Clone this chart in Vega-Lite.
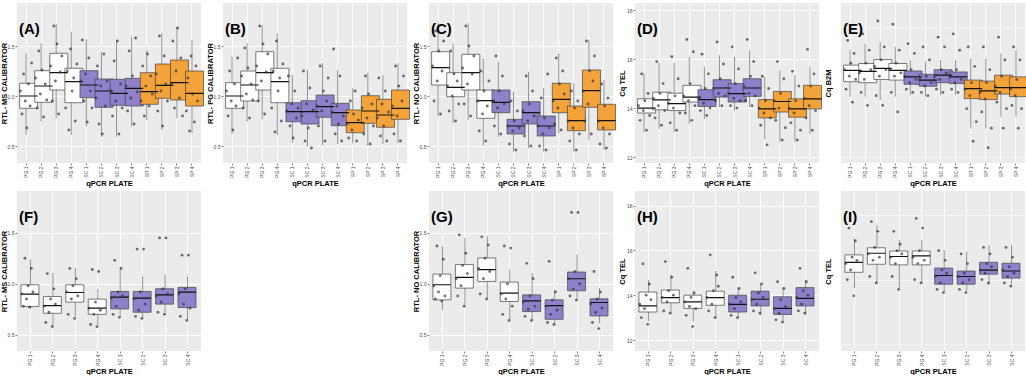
{
"$schema":"https://vega.github.io/schema/vega-lite/v6.json",
"padding":{"left":0,"top":3,"right":0,"bottom":0},
"columns":5,
"spacing":{"row":28,"column":22},
"bounds":"flush",
"config":{
 "font":"Liberation Sans",
 "view":{"stroke":null},
 "axis":{"domain":false,"tickColor":"#333333","tickSize":2,"tickWidth":0.6,"labelFontSize":5,"labelColor":"#4d4d4d","labelPadding":1,"titleFontSize":7.5,"titleFontWeight":"bold","titleColor":"#000000","gridColor":"#ffffff"},
 "axisY":{"minExtent":8,"maxExtent":8,"titlePadding":1},
 "axisX":{"labelAngle":-90,"bandPosition":0.5,"grid":true,"gridWidth":1,"titlePadding":2},
 "title":{"anchor":"start","frame":"group","fontSize":15,"fontWeight":"bold","offset":-29,"dx":2,"dy":5,"color":"#000000"}
},
"data":{"values":[
{"p":"A","x":"PG 1","g":"PG","lo":0.61,"q1":0.877,"md":1.0,"q3":1.127,"hi":1.427},
{"p":"A","x":"PG 2","g":"PG","lo":0.743,"q1":0.937,"md":1.10,"q3":1.253,"hi":1.527},
{"p":"A","x":"PG 3","g":"PG","lo":0.777,"q1":1.06,"md":1.233,"q3":1.427,"hi":1.72},
{"p":"A","x":"PG 4","g":"PG","lo":0.61,"q1":0.933,"md":1.143,"q3":1.277,"hi":1.643},
{"p":"A","x":"SC 1","g":"SC","lo":0.70,"q1":0.983,"md":1.11,"q3":1.253,"hi":1.567},
{"p":"A","x":"SC 2","g":"SC","lo":0.593,"q1":0.887,"md":1.05,"q3":1.17,"hi":1.443},
{"p":"A","x":"SC 3","g":"SC","lo":0.593,"q1":0.907,"md":1.027,"q3":1.167,"hi":1.56},
{"p":"A","x":"SC 4","g":"SC","lo":0.693,"q1":0.90,"md":1.077,"q3":1.177,"hi":1.593},
{"p":"A","x":"SP 1","g":"SP","lo":0.76,"q1":0.917,"md":1.043,"q3":1.233,"hi":1.46},
{"p":"A","x":"SP 2","g":"SP","lo":0.66,"q1":0.977,"md":1.107,"q3":1.32,"hi":1.627},
{"p":"A","x":"SP 3","g":"SP","lo":0.777,"q1":0.96,"md":1.133,"q3":1.36,"hi":1.693},
{"p":"A","x":"SP 4","g":"SP","lo":0.627,"q1":0.90,"md":1.027,"q3":1.25,"hi":1.56},
{"p":"B","x":"PG 1","g":"PG","lo":0.62,"q1":0.877,"md":1.0,"q3":1.133,"hi":1.393},
{"p":"B","x":"PG 2","g":"PG","lo":0.743,"q1":0.95,"md":1.11,"q3":1.25,"hi":1.527},
{"p":"B","x":"PG 3","g":"PG","lo":0.767,"q1":1.06,"md":1.233,"q3":1.443,"hi":1.71},
{"p":"B","x":"PG 4","g":"PG","lo":0.61,"q1":0.933,"md":1.143,"q3":1.277,"hi":1.627},
{"p":"B","x":"SC 1","g":"SC","lo":0.533,"q1":0.743,"md":0.843,"q3":0.933,"hi":1.21},
{"p":"B","x":"SC 2","g":"SC","lo":0.493,"q1":0.72,"md":0.843,"q3":0.953,"hi":1.26},
{"p":"B","x":"SC 3","g":"SC","lo":0.51,"q1":0.787,"md":0.893,"q3":1.01,"hi":1.327},
{"p":"B","x":"SC 4","g":"SC","lo":0.52,"q1":0.703,"md":0.833,"q3":0.927,"hi":1.26},
{"p":"B","x":"SP 1","g":"SP","lo":0.527,"q1":0.633,"md":0.733,"q3":0.86,"hi":1.077},
{"p":"B","x":"SP 2","g":"SP","lo":0.50,"q1":0.727,"md":0.85,"q3":1.003,"hi":1.233},
{"p":"B","x":"SP 3","g":"SP","lo":0.52,"q1":0.687,"md":0.81,"q3":0.967,"hi":1.21},
{"p":"B","x":"SP 4","g":"SP","lo":0.527,"q1":0.767,"md":0.877,"q3":1.06,"hi":1.327},
{"p":"C","x":"PG 1","g":"PG","lo":0.793,"q1":1.11,"md":1.283,"q3":1.443,"hi":1.727},
{"p":"C","x":"PG 2","g":"PG","lo":0.727,"q1":0.993,"md":1.087,"q3":1.233,"hi":1.527},
{"p":"C","x":"PG 3","g":"PG","lo":0.76,"q1":1.06,"md":1.233,"q3":1.417,"hi":1.727},
{"p":"C","x":"PG 4","g":"PG","lo":0.503,"q1":0.777,"md":0.953,"q3":1.06,"hi":1.377},
{"p":"C","x":"SC 1","g":"SC","lo":0.593,"q1":0.833,"md":0.937,"q3":1.06,"hi":1.343},
{"p":"C","x":"SC 2","g":"SC","lo":0.443,"q1":0.62,"md":0.70,"q3":0.767,"hi":1.043},
{"p":"C","x":"SC 3","g":"SC","lo":0.477,"q1":0.72,"md":0.833,"q3":0.943,"hi":1.243},
{"p":"C","x":"SC 4","g":"SC","lo":0.443,"q1":0.60,"md":0.70,"q3":0.80,"hi":1.077},
{"p":"C","x":"SP 1","g":"SP","lo":0.627,"q1":0.833,"md":0.967,"q3":1.127,"hi":1.427},
{"p":"C","x":"SP 2","g":"SP","lo":0.443,"q1":0.653,"md":0.753,"q3":0.90,"hi":1.127},
{"p":"C","x":"SP 3","g":"SP","lo":0.56,"q1":0.887,"md":1.053,"q3":1.26,"hi":1.56},
{"p":"C","x":"SP 4","g":"SP","lo":0.46,"q1":0.66,"md":0.753,"q3":0.917,"hi":1.16},
{"p":"D","x":"PG 1","g":"PG","lo":13.02,"q1":13.80,"md":14.0,"q3":14.38,"hi":15.43},
{"p":"D","x":"PG 2","g":"PG","lo":13.15,"q1":13.93,"md":14.34,"q3":14.65,"hi":15.84},
{"p":"D","x":"PG 3","g":"PG","lo":13.02,"q1":13.90,"md":14.18,"q3":14.61,"hi":15.84},
{"p":"D","x":"PG 4","g":"PG","lo":13.36,"q1":14.25,"md":14.45,"q3":14.93,"hi":16.09},
{"p":"D","x":"SC 1","g":"SC","lo":13.56,"q1":14.07,"md":14.35,"q3":14.75,"hi":15.68},
{"p":"D","x":"SC 2","g":"SC","lo":14.04,"q1":14.45,"md":14.82,"q3":15.16,"hi":16.16},
{"p":"D","x":"SC 3","g":"SC","lo":13.9,"q1":14.25,"md":14.59,"q3":15.0,"hi":16.09},
{"p":"D","x":"SC 4","g":"SC","lo":14.04,"q1":14.48,"md":14.82,"q3":15.2,"hi":16.36},
{"p":"D","x":"SP 1","g":"SP","lo":12.74,"q1":13.6,"md":13.97,"q3":14.35,"hi":15.27},
{"p":"D","x":"SP 2","g":"SP","lo":12.61,"q1":13.84,"md":14.27,"q3":14.68,"hi":15.54},
{"p":"D","x":"SP 3","g":"SP","lo":12.61,"q1":13.63,"md":13.97,"q3":14.38,"hi":15.34},
{"p":"D","x":"SP 4","g":"SP","lo":12.95,"q1":13.97,"md":14.38,"q3":14.93,"hi":15.68},
{"p":"E","x":"PG 1","g":"PG","lo":25.37,"q1":25.83,"md":26.18,"q3":26.34,"hi":26.8},
{"p":"E","x":"PG 2","g":"PG","lo":25.37,"q1":25.8,"md":26.15,"q3":26.39,"hi":27.0},
{"p":"E","x":"PG 3","g":"PG","lo":25.26,"q1":25.9,"md":26.24,"q3":26.51,"hi":27.05},
{"p":"E","x":"PG 4","g":"PG","lo":25.37,"q1":25.88,"md":26.18,"q3":26.39,"hi":26.9},
{"p":"E","x":"SC 1","g":"SC","lo":25.42,"q1":25.75,"md":25.98,"q3":26.16,"hi":26.49},
{"p":"E","x":"SC 2","g":"SC","lo":25.37,"q1":25.69,"md":25.88,"q3":26.06,"hi":26.44},
{"p":"E","x":"SC 3","g":"SC","lo":25.42,"q1":25.8,"md":26.03,"q3":26.2,"hi":26.49},
{"p":"E","x":"SC 4","g":"SC","lo":25.42,"q1":25.77,"md":25.98,"q3":26.13,"hi":26.49},
{"p":"E","x":"SP 1","g":"SP","lo":24.39,"q1":25.31,"md":25.62,"q3":25.88,"hi":26.54},
{"p":"E","x":"SP 2","g":"SP","lo":24.39,"q1":25.28,"md":25.55,"q3":25.85,"hi":26.54},
{"p":"E","x":"SP 3","g":"SP","lo":24.75,"q1":25.45,"md":25.65,"q3":26.03,"hi":26.7},
{"p":"E","x":"SP 4","g":"SP","lo":24.75,"q1":25.37,"md":25.65,"q3":25.98,"hi":26.8},
{"p":"F","x":"PG 1","g":"PG","lo":0.76,"q1":0.776,"md":0.898,"q3":0.99,"hi":1.237},
{"p":"F","x":"PG 2","g":"PG","lo":0.579,"q1":0.71,"md":0.786,"q3":0.875,"hi":1.105},
{"p":"F","x":"PG 3","g":"PG","lo":0.678,"q1":0.819,"md":0.914,"q3":0.99,"hi":1.155},
{"p":"F","x":"PG 4","g":"PG","lo":0.595,"q1":0.70,"md":0.76,"q3":0.849,"hi":0.947},
{"p":"F","x":"SC 1","g":"SC","lo":0.678,"q1":0.753,"md":0.868,"q3":0.924,"hi":1.155},
{"p":"F","x":"SC 2","g":"SC","lo":0.668,"q1":0.72,"md":0.859,"q3":0.924,"hi":1.072},
{"p":"F","x":"SC 3","g":"SC","lo":0.694,"q1":0.80,"md":0.891,"q3":0.951,"hi":1.089},
{"p":"F","x":"SC 4","g":"SC","lo":0.645,"q1":0.766,"md":0.918,"q3":0.964,"hi":1.072},
{"p":"G","x":"PG 1","g":"PG","lo":0.743,"q1":0.842,"md":0.99,"q3":1.095,"hi":1.368},
{"p":"G","x":"PG 2","g":"PG","lo":0.793,"q1":0.957,"md":1.063,"q3":1.188,"hi":1.45},
{"p":"G","x":"PG 3","g":"PG","lo":0.859,"q1":1.023,"md":1.138,"q3":1.253,"hi":1.467},
{"p":"G","x":"PG 4","g":"PG","lo":0.645,"q1":0.826,"md":0.908,"q3":1.016,"hi":1.138},
{"p":"G","x":"SC 1","g":"SC","lo":0.645,"q1":0.727,"md":0.832,"q3":0.891,"hi":1.105},
{"p":"G","x":"SC 2","g":"SC","lo":0.602,"q1":0.651,"md":0.786,"q3":0.842,"hi":0.941},
{"p":"G","x":"SC 3","g":"SC","lo":0.842,"q1":0.931,"md":1.049,"q3":1.115,"hi":1.286},
{"p":"G","x":"SC 4","g":"SC","lo":0.612,"q1":0.684,"md":0.816,"q3":0.852,"hi":0.957},
{"p":"H","x":"PG 1","g":"PG","lo":12.84,"q1":13.25,"md":13.52,"q3":14.14,"hi":14.68},
{"p":"H","x":"PG 2","g":"PG","lo":13.18,"q1":13.66,"md":13.89,"q3":14.23,"hi":14.92},
{"p":"H","x":"PG 3","g":"PG","lo":12.84,"q1":13.41,"md":13.7,"q3":14.0,"hi":14.2},
{"p":"H","x":"PG 4","g":"PG","lo":12.98,"q1":13.55,"md":13.89,"q3":14.18,"hi":15.09},
{"p":"H","x":"SC 1","g":"SC","lo":12.98,"q1":13.25,"md":13.59,"q3":14.0,"hi":14.34},
{"p":"H","x":"SC 2","g":"SC","lo":13.11,"q1":13.52,"md":13.82,"q3":14.18,"hi":14.48},
{"p":"H","x":"SC 3","g":"SC","lo":12.77,"q1":13.14,"md":13.41,"q3":13.93,"hi":14.34},
{"p":"H","x":"SC 4","g":"SC","lo":13.11,"q1":13.52,"md":13.86,"q3":14.34,"hi":14.68},
{"p":"I","x":"PG 1","g":"PG","lo":25.24,"q1":25.73,"md":26.04,"q3":26.27,"hi":26.78},
{"p":"I","x":"PG 2","g":"PG","lo":25.36,"q1":25.98,"md":26.32,"q3":26.49,"hi":27.2},
{"p":"I","x":"PG 3","g":"PG","lo":25.24,"q1":25.96,"md":26.22,"q3":26.39,"hi":26.73},
{"p":"I","x":"PG 4","g":"PG","lo":25.39,"q1":25.96,"md":26.24,"q3":26.39,"hi":26.73},
{"p":"I","x":"SC 1","g":"SC","lo":25.13,"q1":25.36,"md":25.63,"q3":25.86,"hi":26.42},
{"p":"I","x":"SC 2","g":"SC","lo":25.15,"q1":25.36,"md":25.6,"q3":25.77,"hi":26.37},
{"p":"I","x":"SC 3","g":"SC","lo":25.34,"q1":25.67,"md":25.8,"q3":26.04,"hi":26.58},
{"p":"I","x":"SC 4","g":"SC","lo":25.34,"q1":25.55,"md":25.77,"q3":26.01,"hi":26.58},
{"p":"A","x":"PG 1","y":1.05},{"p":"A","x":"PG 1","y":0.82},{"p":"A","x":"PG 1","y":1.22},{"p":"A","x":"PG 1","y":0.95},{"p":"A","x":"PG 1","y":0.68},{"p":"A","x":"PG 1","y":1.12},{"p":"A","x":"PG 1","y":0.90},{"p":"A","x":"PG 1","y":1.33},
{"p":"A","x":"PG 2","y":1.18},{"p":"A","x":"PG 2","y":0.88},{"p":"A","x":"PG 2","y":1.45},{"p":"A","x":"PG 2","y":1.02},{"p":"A","x":"PG 2","y":1.26},{"p":"A","x":"PG 2","y":0.79},{"p":"A","x":"PG 2","y":1.12},{"p":"A","x":"PG 2","y":0.96},
{"p":"A","x":"PG 3","y":1.30},{"p":"A","x":"PG 3","y":0.95},{"p":"A","x":"PG 3","y":1.70},{"p":"A","x":"PG 3","y":1.15},{"p":"A","x":"PG 3","y":1.52},{"p":"A","x":"PG 3","y":0.82},{"p":"A","x":"PG 3","y":1.24},{"p":"A","x":"PG 3","y":1.40},
{"p":"A","x":"PG 4","y":0.88},{"p":"A","x":"PG 4","y":1.25},{"p":"A","x":"PG 4","y":0.66},{"p":"A","x":"PG 4","y":1.47},{"p":"A","x":"PG 4","y":1.05},{"p":"A","x":"PG 4","y":1.18},{"p":"A","x":"PG 4","y":0.75},{"p":"A","x":"PG 4","y":1.32},
{"p":"A","x":"SC 1","y":1.15},{"p":"A","x":"SC 1","y":1.56},{"p":"A","x":"SC 1","y":0.95},{"p":"A","x":"SC 1","y":1.22},{"p":"A","x":"SC 1","y":0.74},{"p":"A","x":"SC 1","y":1.38},{"p":"A","x":"SC 1","y":1.05},{"p":"A","x":"SC 1","y":0.88},
{"p":"A","x":"SC 2","y":0.98},{"p":"A","x":"SC 2","y":1.30},{"p":"A","x":"SC 2","y":0.72},{"p":"A","x":"SC 2","y":1.10},{"p":"A","x":"SC 2","y":0.62},{"p":"A","x":"SC 2","y":1.42},{"p":"A","x":"SC 2","y":0.90},{"p":"A","x":"SC 2","y":1.15},
{"p":"A","x":"SC 3","y":1.05},{"p":"A","x":"SC 3","y":0.80},{"p":"A","x":"SC 3","y":1.35},{"p":"A","x":"SC 3","y":0.95},{"p":"A","x":"SC 3","y":1.55},{"p":"A","x":"SC 3","y":0.62},{"p":"A","x":"SC 3","y":1.12},{"p":"A","x":"SC 3","y":0.88},
{"p":"A","x":"SC 4","y":1.10},{"p":"A","x":"SC 4","y":0.85},{"p":"A","x":"SC 4","y":1.45},{"p":"A","x":"SC 4","y":0.98},{"p":"A","x":"SC 4","y":1.20},{"p":"A","x":"SC 4","y":0.72},{"p":"A","x":"SC 4","y":1.58},{"p":"A","x":"SC 4","y":1.04},
{"p":"A","x":"SP 1","y":0.95},{"p":"A","x":"SP 1","y":1.30},{"p":"A","x":"SP 1","y":0.80},{"p":"A","x":"SP 1","y":1.10},{"p":"A","x":"SP 1","y":1.42},{"p":"A","x":"SP 1","y":0.90},{"p":"A","x":"SP 1","y":1.20},{"p":"A","x":"SP 1","y":1.02},
{"p":"A","x":"SP 2","y":1.22},{"p":"A","x":"SP 2","y":0.85},{"p":"A","x":"SP 2","y":1.60},{"p":"A","x":"SP 2","y":1.05},{"p":"A","x":"SP 2","y":0.70},{"p":"A","x":"SP 2","y":1.40},{"p":"A","x":"SP 2","y":1.12},{"p":"A","x":"SP 2","y":0.95},
{"p":"A","x":"SP 3","y":1.12},{"p":"A","x":"SP 3","y":1.55},{"p":"A","x":"SP 3","y":0.88},{"p":"A","x":"SP 3","y":1.25},{"p":"A","x":"SP 3","y":1.68},{"p":"A","x":"SP 3","y":0.98},{"p":"A","x":"SP 3","y":1.38},{"p":"A","x":"SP 3","y":0.80},
{"p":"A","x":"SP 4","y":0.85},{"p":"A","x":"SP 4","y":1.18},{"p":"A","x":"SP 4","y":0.65},{"p":"A","x":"SP 4","y":1.40},{"p":"A","x":"SP 4","y":1.02},{"p":"A","x":"SP 4","y":0.74},{"p":"A","x":"SP 4","y":1.30},{"p":"A","x":"SP 4","y":0.95},
{"p":"B","x":"PG 1","y":1.05},{"p":"B","x":"PG 1","y":0.80},{"p":"B","x":"PG 1","y":1.25},{"p":"B","x":"PG 1","y":0.95},{"p":"B","x":"PG 1","y":0.66},{"p":"B","x":"PG 1","y":1.12},{"p":"B","x":"PG 1","y":0.90},{"p":"B","x":"PG 1","y":1.38},
{"p":"B","x":"PG 2","y":1.20},{"p":"B","x":"PG 2","y":0.88},{"p":"B","x":"PG 2","y":1.48},{"p":"B","x":"PG 2","y":1.02},{"p":"B","x":"PG 2","y":1.28},{"p":"B","x":"PG 2","y":0.78},{"p":"B","x":"PG 2","y":1.12},{"p":"B","x":"PG 2","y":0.96},
{"p":"B","x":"PG 3","y":1.30},{"p":"B","x":"PG 3","y":0.95},{"p":"B","x":"PG 3","y":1.70},{"p":"B","x":"PG 3","y":1.15},{"p":"B","x":"PG 3","y":1.52},{"p":"B","x":"PG 3","y":0.82},{"p":"B","x":"PG 3","y":1.24},{"p":"B","x":"PG 3","y":1.42},
{"p":"B","x":"PG 4","y":0.88},{"p":"B","x":"PG 4","y":1.25},{"p":"B","x":"PG 4","y":0.64},{"p":"B","x":"PG 4","y":1.55},{"p":"B","x":"PG 4","y":1.05},{"p":"B","x":"PG 4","y":1.18},{"p":"B","x":"PG 4","y":0.75},{"p":"B","x":"PG 4","y":1.32},
{"p":"B","x":"SC 1","y":0.85},{"p":"B","x":"SC 1","y":1.20},{"p":"B","x":"SC 1","y":0.70},{"p":"B","x":"SC 1","y":0.92},{"p":"B","x":"SC 1","y":0.58},{"p":"B","x":"SC 1","y":1.05},{"p":"B","x":"SC 1","y":0.78},{"p":"B","x":"SC 1","y":0.88},
{"p":"B","x":"SC 2","y":0.80},{"p":"B","x":"SC 2","y":1.25},{"p":"B","x":"SC 2","y":0.55},{"p":"B","x":"SC 2","y":0.92},{"p":"B","x":"SC 2","y":0.68},{"p":"B","x":"SC 2","y":1.08},{"p":"B","x":"SC 2","y":0.48},{"p":"B","x":"SC 2","y":0.86},
{"p":"B","x":"SC 3","y":0.90},{"p":"B","x":"SC 3","y":0.70},{"p":"B","x":"SC 3","y":1.30},{"p":"B","x":"SC 3","y":0.85},{"p":"B","x":"SC 3","y":1.05},{"p":"B","x":"SC 3","y":0.55},{"p":"B","x":"SC 3","y":0.95},{"p":"B","x":"SC 3","y":1.18},
{"p":"B","x":"SC 4","y":0.84},{"p":"B","x":"SC 4","y":1.47},{"p":"B","x":"SC 4","y":0.62},{"p":"B","x":"SC 4","y":0.90},{"p":"B","x":"SC 4","y":0.72},{"p":"B","x":"SC 4","y":1.20},{"p":"B","x":"SC 4","y":0.55},{"p":"B","x":"SC 4","y":0.80},
{"p":"B","x":"SP 1","y":0.72},{"p":"B","x":"SP 1","y":0.58},{"p":"B","x":"SP 1","y":0.95},{"p":"B","x":"SP 1","y":0.66},{"p":"B","x":"SP 1","y":0.82},{"p":"B","x":"SP 1","y":1.05},{"p":"B","x":"SP 1","y":0.55},{"p":"B","x":"SP 1","y":0.76},
{"p":"B","x":"SP 2","y":0.88},{"p":"B","x":"SP 2","y":0.62},{"p":"B","x":"SP 2","y":1.20},{"p":"B","x":"SP 2","y":0.78},{"p":"B","x":"SP 2","y":1.02},{"p":"B","x":"SP 2","y":0.52},{"p":"B","x":"SP 2","y":0.92},{"p":"B","x":"SP 2","y":0.70},
{"p":"B","x":"SP 3","y":0.78},{"p":"B","x":"SP 3","y":1.18},{"p":"B","x":"SP 3","y":0.60},{"p":"B","x":"SP 3","y":0.92},{"p":"B","x":"SP 3","y":0.70},{"p":"B","x":"SP 3","y":1.05},{"p":"B","x":"SP 3","y":0.55},{"p":"B","x":"SP 3","y":0.84},
{"p":"B","x":"SP 4","y":0.90},{"p":"B","x":"SP 4","y":0.62},{"p":"B","x":"SP 4","y":1.30},{"p":"B","x":"SP 4","y":0.80},{"p":"B","x":"SP 4","y":1.10},{"p":"B","x":"SP 4","y":0.55},{"p":"B","x":"SP 4","y":0.95},{"p":"B","x":"SP 4","y":1.20},
{"p":"C","x":"PG 1","y":1.30},{"p":"C","x":"PG 1","y":0.95},{"p":"C","x":"PG 1","y":1.65},{"p":"C","x":"PG 1","y":1.15},{"p":"C","x":"PG 1","y":1.45},{"p":"C","x":"PG 1","y":0.82},{"p":"C","x":"PG 1","y":1.25},{"p":"C","x":"PG 1","y":1.55},
{"p":"C","x":"PG 2","y":1.10},{"p":"C","x":"PG 2","y":0.85},{"p":"C","x":"PG 2","y":1.45},{"p":"C","x":"PG 2","y":1.00},{"p":"C","x":"PG 2","y":1.22},{"p":"C","x":"PG 2","y":0.75},{"p":"C","x":"PG 2","y":1.15},{"p":"C","x":"PG 2","y":0.92},
{"p":"C","x":"PG 3","y":1.28},{"p":"C","x":"PG 3","y":0.92},{"p":"C","x":"PG 3","y":1.70},{"p":"C","x":"PG 3","y":1.12},{"p":"C","x":"PG 3","y":1.50},{"p":"C","x":"PG 3","y":0.80},{"p":"C","x":"PG 3","y":1.22},{"p":"C","x":"PG 3","y":1.40},
{"p":"C","x":"PG 4","y":0.95},{"p":"C","x":"PG 4","y":0.65},{"p":"C","x":"PG 4","y":1.25},{"p":"C","x":"PG 4","y":0.82},{"p":"C","x":"PG 4","y":1.05},{"p":"C","x":"PG 4","y":0.55},{"p":"C","x":"PG 4","y":0.90},{"p":"C","x":"PG 4","y":1.15},
{"p":"C","x":"SC 1","y":0.95},{"p":"C","x":"SC 1","y":0.70},{"p":"C","x":"SC 1","y":1.40},{"p":"C","x":"SC 1","y":0.88},{"p":"C","x":"SC 1","y":1.05},{"p":"C","x":"SC 1","y":0.62},{"p":"C","x":"SC 1","y":1.20},{"p":"C","x":"SC 1","y":0.92},
{"p":"C","x":"SC 2","y":0.70},{"p":"C","x":"SC 2","y":0.52},{"p":"C","x":"SC 2","y":0.95},{"p":"C","x":"SC 2","y":0.65},{"p":"C","x":"SC 2","y":0.75},{"p":"C","x":"SC 2","y":0.46},{"p":"C","x":"SC 2","y":0.85},{"p":"C","x":"SC 2","y":0.68},
{"p":"C","x":"SC 3","y":0.85},{"p":"C","x":"SC 3","y":0.60},{"p":"C","x":"SC 3","y":1.20},{"p":"C","x":"SC 3","y":0.75},{"p":"C","x":"SC 3","y":0.92},{"p":"C","x":"SC 3","y":0.50},{"p":"C","x":"SC 3","y":1.05},{"p":"C","x":"SC 3","y":0.80},
{"p":"C","x":"SC 4","y":0.70},{"p":"C","x":"SC 4","y":0.50},{"p":"C","x":"SC 4","y":0.98},{"p":"C","x":"SC 4","y":0.62},{"p":"C","x":"SC 4","y":0.78},{"p":"C","x":"SC 4","y":0.46},{"p":"C","x":"SC 4","y":1.22},{"p":"C","x":"SC 4","y":0.68},
{"p":"C","x":"SP 1","y":0.95},{"p":"C","x":"SP 1","y":0.72},{"p":"C","x":"SP 1","y":1.38},{"p":"C","x":"SP 1","y":0.88},{"p":"C","x":"SP 1","y":1.12},{"p":"C","x":"SP 1","y":0.66},{"p":"C","x":"SP 1","y":1.25},{"p":"C","x":"SP 1","y":1.02},
{"p":"C","x":"SP 2","y":0.75},{"p":"C","x":"SP 2","y":0.55},{"p":"C","x":"SP 2","y":1.05},{"p":"C","x":"SP 2","y":0.68},{"p":"C","x":"SP 2","y":0.88},{"p":"C","x":"SP 2","y":0.46},{"p":"C","x":"SP 2","y":0.95},{"p":"C","x":"SP 2","y":0.62},
{"p":"C","x":"SP 3","y":1.05},{"p":"C","x":"SP 3","y":0.75},{"p":"C","x":"SP 3","y":1.55},{"p":"C","x":"SP 3","y":0.92},{"p":"C","x":"SP 3","y":1.25},{"p":"C","x":"SP 3","y":0.62},{"p":"C","x":"SP 3","y":1.15},{"p":"C","x":"SP 3","y":1.40},
{"p":"C","x":"SP 4","y":0.75},{"p":"C","x":"SP 4","y":0.52},{"p":"C","x":"SP 4","y":1.12},{"p":"C","x":"SP 4","y":0.68},{"p":"C","x":"SP 4","y":0.90},{"p":"C","x":"SP 4","y":0.48},{"p":"C","x":"SP 4","y":0.98},{"p":"C","x":"SP 4","y":0.62},
{"p":"D","x":"PG 1","y":14.1},{"p":"D","x":"PG 1","y":13.5},{"p":"D","x":"PG 1","y":15.4},{"p":"D","x":"PG 1","y":13.9},{"p":"D","x":"PG 1","y":14.3},{"p":"D","x":"PG 1","y":13.1},{"p":"D","x":"PG 1","y":14.6},{"p":"D","x":"PG 1","y":13.7},
{"p":"D","x":"PG 2","y":14.4},{"p":"D","x":"PG 2","y":13.6},{"p":"D","x":"PG 2","y":15.9},{"p":"D","x":"PG 2","y":14.1},{"p":"D","x":"PG 2","y":14.6},{"p":"D","x":"PG 2","y":13.3},{"p":"D","x":"PG 2","y":15.0},{"p":"D","x":"PG 2","y":13.9},
{"p":"D","x":"PG 3","y":14.2},{"p":"D","x":"PG 3","y":13.4},{"p":"D","x":"PG 3","y":16.1},{"p":"D","x":"PG 3","y":14.0},{"p":"D","x":"PG 3","y":14.5},{"p":"D","x":"PG 3","y":13.1},{"p":"D","x":"PG 3","y":15.2},{"p":"D","x":"PG 3","y":13.8},
{"p":"D","x":"PG 4","y":14.5},{"p":"D","x":"PG 4","y":13.8},{"p":"D","x":"PG 4","y":16.8},{"p":"D","x":"PG 4","y":14.3},{"p":"D","x":"PG 4","y":15.0},{"p":"D","x":"PG 4","y":13.5},{"p":"D","x":"PG 4","y":16.3},{"p":"D","x":"PG 4","y":14.1},
{"p":"D","x":"SC 1","y":14.4},{"p":"D","x":"SC 1","y":13.9},{"p":"D","x":"SC 1","y":16.2},{"p":"D","x":"SC 1","y":14.2},{"p":"D","x":"SC 1","y":14.8},{"p":"D","x":"SC 1","y":13.7},{"p":"D","x":"SC 1","y":15.4},{"p":"D","x":"SC 1","y":14.0},
{"p":"D","x":"SC 2","y":14.8},{"p":"D","x":"SC 2","y":14.3},{"p":"D","x":"SC 2","y":16.7},{"p":"D","x":"SC 2","y":14.6},{"p":"D","x":"SC 2","y":15.2},{"p":"D","x":"SC 2","y":14.1},{"p":"D","x":"SC 2","y":15.8},{"p":"D","x":"SC 2","y":14.5},
{"p":"D","x":"SC 3","y":14.6},{"p":"D","x":"SC 3","y":14.1},{"p":"D","x":"SC 3","y":16.5},{"p":"D","x":"SC 3","y":14.4},{"p":"D","x":"SC 3","y":15.0},{"p":"D","x":"SC 3","y":14.0},{"p":"D","x":"SC 3","y":15.6},{"p":"D","x":"SC 3","y":14.3},
{"p":"D","x":"SC 4","y":14.9},{"p":"D","x":"SC 4","y":14.3},{"p":"D","x":"SC 4","y":16.8},{"p":"D","x":"SC 4","y":14.6},{"p":"D","x":"SC 4","y":15.3},{"p":"D","x":"SC 4","y":14.1},{"p":"D","x":"SC 4","y":15.9},{"p":"D","x":"SC 4","y":14.5},
{"p":"D","x":"SP 1","y":14.0},{"p":"D","x":"SP 1","y":13.3},{"p":"D","x":"SP 1","y":15.3},{"p":"D","x":"SP 1","y":13.8},{"p":"D","x":"SP 1","y":14.3},{"p":"D","x":"SP 1","y":12.5},{"p":"D","x":"SP 1","y":14.8},{"p":"D","x":"SP 1","y":13.6},
{"p":"D","x":"SP 2","y":14.3},{"p":"D","x":"SP 2","y":13.5},{"p":"D","x":"SP 2","y":15.9},{"p":"D","x":"SP 2","y":14.0},{"p":"D","x":"SP 2","y":14.6},{"p":"D","x":"SP 2","y":12.7},{"p":"D","x":"SP 2","y":15.2},{"p":"D","x":"SP 2","y":13.2},
{"p":"D","x":"SP 3","y":14.0},{"p":"D","x":"SP 3","y":13.4},{"p":"D","x":"SP 3","y":15.5},{"p":"D","x":"SP 3","y":13.8},{"p":"D","x":"SP 3","y":14.3},{"p":"D","x":"SP 3","y":12.7},{"p":"D","x":"SP 3","y":14.9},{"p":"D","x":"SP 3","y":13.1},
{"p":"D","x":"SP 4","y":14.4},{"p":"D","x":"SP 4","y":13.6},{"p":"D","x":"SP 4","y":16.4},{"p":"D","x":"SP 4","y":14.1},{"p":"D","x":"SP 4","y":14.9},{"p":"D","x":"SP 4","y":13.1},{"p":"D","x":"SP 4","y":15.4},{"p":"D","x":"SP 4","y":13.9},
{"p":"E","x":"PG 1","y":26.2},{"p":"E","x":"PG 1","y":25.6},{"p":"E","x":"PG 1","y":27.1},{"p":"E","x":"PG 1","y":26.0},{"p":"E","x":"PG 1","y":26.4},{"p":"E","x":"PG 1","y":25.2},{"p":"E","x":"PG 1","y":26.7},{"p":"E","x":"PG 1","y":25.9},
{"p":"E","x":"PG 2","y":26.1},{"p":"E","x":"PG 2","y":25.5},{"p":"E","x":"PG 2","y":27.3},{"p":"E","x":"PG 2","y":25.9},{"p":"E","x":"PG 2","y":26.4},{"p":"E","x":"PG 2","y":25.1},{"p":"E","x":"PG 2","y":26.8},{"p":"E","x":"PG 2","y":26.2},
{"p":"E","x":"PG 3","y":26.3},{"p":"E","x":"PG 3","y":25.4},{"p":"E","x":"PG 3","y":27.7},{"p":"E","x":"PG 3","y":26.0},{"p":"E","x":"PG 3","y":26.5},{"p":"E","x":"PG 3","y":25.1},{"p":"E","x":"PG 3","y":26.9},{"p":"E","x":"PG 3","y":26.2},
{"p":"E","x":"PG 4","y":26.2},{"p":"E","x":"PG 4","y":25.5},{"p":"E","x":"PG 4","y":27.6},{"p":"E","x":"PG 4","y":26.0},{"p":"E","x":"PG 4","y":26.4},{"p":"E","x":"PG 4","y":24.9},{"p":"E","x":"PG 4","y":26.8},{"p":"E","x":"PG 4","y":26.1},
{"p":"E","x":"SC 1","y":26.0},{"p":"E","x":"SC 1","y":25.6},{"p":"E","x":"SC 1","y":27.0},{"p":"E","x":"SC 1","y":25.8},{"p":"E","x":"SC 1","y":26.2},{"p":"E","x":"SC 1","y":25.5},{"p":"E","x":"SC 1","y":26.7},{"p":"E","x":"SC 1","y":25.9},
{"p":"E","x":"SC 2","y":25.9},{"p":"E","x":"SC 2","y":25.5},{"p":"E","x":"SC 2","y":26.9},{"p":"E","x":"SC 2","y":25.7},{"p":"E","x":"SC 2","y":26.0},{"p":"E","x":"SC 2","y":25.4},{"p":"E","x":"SC 2","y":26.5},{"p":"E","x":"SC 2","y":25.8},
{"p":"E","x":"SC 3","y":26.0},{"p":"E","x":"SC 3","y":25.6},{"p":"E","x":"SC 3","y":27.2},{"p":"E","x":"SC 3","y":25.9},{"p":"E","x":"SC 3","y":26.2},{"p":"E","x":"SC 3","y":25.5},{"p":"E","x":"SC 3","y":26.9},{"p":"E","x":"SC 3","y":26.1},
{"p":"E","x":"SC 4","y":26.0},{"p":"E","x":"SC 4","y":25.6},{"p":"E","x":"SC 4","y":27.3},{"p":"E","x":"SC 4","y":25.8},{"p":"E","x":"SC 4","y":26.2},{"p":"E","x":"SC 4","y":25.5},{"p":"E","x":"SC 4","y":26.8},{"p":"E","x":"SC 4","y":25.9},
{"p":"E","x":"SP 1","y":25.6},{"p":"E","x":"SP 1","y":25.0},{"p":"E","x":"SP 1","y":26.9},{"p":"E","x":"SP 1","y":25.4},{"p":"E","x":"SP 1","y":25.8},{"p":"E","x":"SP 1","y":24.0},{"p":"E","x":"SP 1","y":26.3},{"p":"E","x":"SP 1","y":24.6},
{"p":"E","x":"SP 2","y":25.5},{"p":"E","x":"SP 2","y":24.9},{"p":"E","x":"SP 2","y":26.9},{"p":"E","x":"SP 2","y":25.3},{"p":"E","x":"SP 2","y":25.8},{"p":"E","x":"SP 2","y":23.8},{"p":"E","x":"SP 2","y":26.2},{"p":"E","x":"SP 2","y":24.4},
{"p":"E","x":"SP 3","y":25.7},{"p":"E","x":"SP 3","y":25.2},{"p":"E","x":"SP 3","y":27.2},{"p":"E","x":"SP 3","y":25.5},{"p":"E","x":"SP 3","y":26.0},{"p":"E","x":"SP 3","y":24.4},{"p":"E","x":"SP 3","y":26.5},{"p":"E","x":"SP 3","y":25.0},
{"p":"E","x":"SP 4","y":25.6},{"p":"E","x":"SP 4","y":25.1},{"p":"E","x":"SP 4","y":26.9},{"p":"E","x":"SP 4","y":25.4},{"p":"E","x":"SP 4","y":25.9},{"p":"E","x":"SP 4","y":24.4},{"p":"E","x":"SP 4","y":26.5},{"p":"E","x":"SP 4","y":25.0},
{"p":"F","x":"PG 1","y":0.90},{"p":"F","x":"PG 1","y":0.78},{"p":"F","x":"PG 1","y":1.25},{"p":"F","x":"PG 1","y":0.85},{"p":"F","x":"PG 1","y":0.98},{"p":"F","x":"PG 1","y":0.77},{"p":"F","x":"PG 1","y":1.15},{"p":"F","x":"PG 1","y":0.92},
{"p":"F","x":"PG 2","y":0.78},{"p":"F","x":"PG 2","y":0.62},{"p":"F","x":"PG 2","y":1.10},{"p":"F","x":"PG 2","y":0.72},{"p":"F","x":"PG 2","y":0.85},{"p":"F","x":"PG 2","y":0.58},{"p":"F","x":"PG 2","y":0.95},{"p":"F","x":"PG 2","y":0.80},
{"p":"F","x":"PG 3","y":0.92},{"p":"F","x":"PG 3","y":0.70},{"p":"F","x":"PG 3","y":1.15},{"p":"F","x":"PG 3","y":0.85},{"p":"F","x":"PG 3","y":0.98},{"p":"F","x":"PG 3","y":0.66},{"p":"F","x":"PG 3","y":1.05},{"p":"F","x":"PG 3","y":0.88},
{"p":"F","x":"PG 4","y":0.76},{"p":"F","x":"PG 4","y":0.60},{"p":"F","x":"PG 4","y":1.14},{"p":"F","x":"PG 4","y":0.70},{"p":"F","x":"PG 4","y":0.82},{"p":"F","x":"PG 4","y":0.58},{"p":"F","x":"PG 4","y":1.12},{"p":"F","x":"PG 4","y":0.74},
{"p":"F","x":"SC 1","y":0.86},{"p":"F","x":"SC 1","y":0.70},{"p":"F","x":"SC 1","y":1.23},{"p":"F","x":"SC 1","y":0.78},{"p":"F","x":"SC 1","y":0.92},{"p":"F","x":"SC 1","y":0.67},{"p":"F","x":"SC 1","y":1.15},{"p":"F","x":"SC 1","y":0.88},
{"p":"F","x":"SC 2","y":0.85},{"p":"F","x":"SC 2","y":0.68},{"p":"F","x":"SC 2","y":1.34},{"p":"F","x":"SC 2","y":0.74},{"p":"F","x":"SC 2","y":0.92},{"p":"F","x":"SC 2","y":0.66},{"p":"F","x":"SC 2","y":1.34},{"p":"F","x":"SC 2","y":0.80},
{"p":"F","x":"SC 3","y":0.88},{"p":"F","x":"SC 3","y":0.72},{"p":"F","x":"SC 3","y":1.45},{"p":"F","x":"SC 3","y":0.82},{"p":"F","x":"SC 3","y":0.95},{"p":"F","x":"SC 3","y":0.70},{"p":"F","x":"SC 3","y":1.45},{"p":"F","x":"SC 3","y":0.90},
{"p":"F","x":"SC 4","y":0.90},{"p":"F","x":"SC 4","y":0.68},{"p":"F","x":"SC 4","y":1.28},{"p":"F","x":"SC 4","y":0.80},{"p":"F","x":"SC 4","y":0.95},{"p":"F","x":"SC 4","y":0.64},{"p":"F","x":"SC 4","y":1.28},{"p":"F","x":"SC 4","y":0.76},
{"p":"G","x":"PG 1","y":0.98},{"p":"G","x":"PG 1","y":0.85},{"p":"G","x":"PG 1","y":1.37},{"p":"G","x":"PG 1","y":0.92},{"p":"G","x":"PG 1","y":1.08},{"p":"G","x":"PG 1","y":0.83},{"p":"G","x":"PG 1","y":1.24},{"p":"G","x":"PG 1","y":0.88},
{"p":"G","x":"PG 2","y":1.05},{"p":"G","x":"PG 2","y":0.88},{"p":"G","x":"PG 2","y":1.48},{"p":"G","x":"PG 2","y":0.98},{"p":"G","x":"PG 2","y":1.18},{"p":"G","x":"PG 2","y":0.78},{"p":"G","x":"PG 2","y":1.30},{"p":"G","x":"PG 2","y":1.10},
{"p":"G","x":"PG 3","y":1.15},{"p":"G","x":"PG 3","y":0.90},{"p":"G","x":"PG 3","y":1.46},{"p":"G","x":"PG 3","y":1.05},{"p":"G","x":"PG 3","y":1.25},{"p":"G","x":"PG 3","y":0.85},{"p":"G","x":"PG 3","y":1.38},{"p":"G","x":"PG 3","y":1.12},
{"p":"G","x":"PG 4","y":0.90},{"p":"G","x":"PG 4","y":0.70},{"p":"G","x":"PG 4","y":1.37},{"p":"G","x":"PG 4","y":0.85},{"p":"G","x":"PG 4","y":1.00},{"p":"G","x":"PG 4","y":0.64},{"p":"G","x":"PG 4","y":1.35},{"p":"G","x":"PG 4","y":0.78},
{"p":"G","x":"SC 1","y":0.82},{"p":"G","x":"SC 1","y":0.68},{"p":"G","x":"SC 1","y":1.20},{"p":"G","x":"SC 1","y":0.75},{"p":"G","x":"SC 1","y":0.88},{"p":"G","x":"SC 1","y":0.64},{"p":"G","x":"SC 1","y":1.05},{"p":"G","x":"SC 1","y":0.78},
{"p":"G","x":"SC 2","y":0.78},{"p":"G","x":"SC 2","y":0.62},{"p":"G","x":"SC 2","y":1.22},{"p":"G","x":"SC 2","y":0.70},{"p":"G","x":"SC 2","y":0.84},{"p":"G","x":"SC 2","y":0.60},{"p":"G","x":"SC 2","y":0.92},{"p":"G","x":"SC 2","y":0.74},
{"p":"G","x":"SC 3","y":1.05},{"p":"G","x":"SC 3","y":0.88},{"p":"G","x":"SC 3","y":1.70},{"p":"G","x":"SC 3","y":0.95},{"p":"G","x":"SC 3","y":1.12},{"p":"G","x":"SC 3","y":0.84},{"p":"G","x":"SC 3","y":1.70},{"p":"G","x":"SC 3","y":1.00},
{"p":"G","x":"SC 4","y":0.80},{"p":"G","x":"SC 4","y":0.62},{"p":"G","x":"SC 4","y":1.12},{"p":"G","x":"SC 4","y":0.72},{"p":"G","x":"SC 4","y":0.85},{"p":"G","x":"SC 4","y":0.56},{"p":"G","x":"SC 4","y":0.92},{"p":"G","x":"SC 4","y":0.76},
{"p":"H","x":"PG 1","y":13.6},{"p":"H","x":"PG 1","y":13.0},{"p":"H","x":"PG 1","y":15.4},{"p":"H","x":"PG 1","y":13.4},{"p":"H","x":"PG 1","y":14.0},{"p":"H","x":"PG 1","y":12.7},{"p":"H","x":"PG 1","y":14.5},{"p":"H","x":"PG 1","y":13.8},
{"p":"H","x":"PG 2","y":13.9},{"p":"H","x":"PG 2","y":13.3},{"p":"H","x":"PG 2","y":15.5},{"p":"H","x":"PG 2","y":13.7},{"p":"H","x":"PG 2","y":14.2},{"p":"H","x":"PG 2","y":13.2},{"p":"H","x":"PG 2","y":14.8},{"p":"H","x":"PG 2","y":14.0},
{"p":"H","x":"PG 3","y":13.7},{"p":"H","x":"PG 3","y":13.1},{"p":"H","x":"PG 3","y":15.2},{"p":"H","x":"PG 3","y":13.5},{"p":"H","x":"PG 3","y":13.9},{"p":"H","x":"PG 3","y":12.6},{"p":"H","x":"PG 3","y":14.1},{"p":"H","x":"PG 3","y":13.4},
{"p":"H","x":"PG 4","y":13.9},{"p":"H","x":"PG 4","y":13.3},{"p":"H","x":"PG 4","y":15.8},{"p":"H","x":"PG 4","y":13.6},{"p":"H","x":"PG 4","y":14.2},{"p":"H","x":"PG 4","y":13.0},{"p":"H","x":"PG 4","y":14.9},{"p":"H","x":"PG 4","y":14.4},
{"p":"H","x":"SC 1","y":13.6},{"p":"H","x":"SC 1","y":13.1},{"p":"H","x":"SC 1","y":14.8},{"p":"H","x":"SC 1","y":13.4},{"p":"H","x":"SC 1","y":13.9},{"p":"H","x":"SC 1","y":13.0},{"p":"H","x":"SC 1","y":14.3},{"p":"H","x":"SC 1","y":13.7},
{"p":"H","x":"SC 2","y":13.8},{"p":"H","x":"SC 2","y":13.3},{"p":"H","x":"SC 2","y":15.0},{"p":"H","x":"SC 2","y":13.6},{"p":"H","x":"SC 2","y":14.1},{"p":"H","x":"SC 2","y":13.2},{"p":"H","x":"SC 2","y":14.5},{"p":"H","x":"SC 2","y":13.9},
{"p":"H","x":"SC 3","y":13.4},{"p":"H","x":"SC 3","y":12.9},{"p":"H","x":"SC 3","y":14.6},{"p":"H","x":"SC 3","y":13.2},{"p":"H","x":"SC 3","y":13.8},{"p":"H","x":"SC 3","y":12.8},{"p":"H","x":"SC 3","y":14.3},{"p":"H","x":"SC 3","y":13.5},
{"p":"H","x":"SC 4","y":13.9},{"p":"H","x":"SC 4","y":13.3},{"p":"H","x":"SC 4","y":15.2},{"p":"H","x":"SC 4","y":13.6},{"p":"H","x":"SC 4","y":14.2},{"p":"H","x":"SC 4","y":13.2},{"p":"H","x":"SC 4","y":14.6},{"p":"H","x":"SC 4","y":14.0},
{"p":"I","x":"PG 1","y":26.0},{"p":"I","x":"PG 1","y":25.5},{"p":"I","x":"PG 1","y":27.1},{"p":"I","x":"PG 1","y":25.8},{"p":"I","x":"PG 1","y":26.2},{"p":"I","x":"PG 1","y":25.0},{"p":"I","x":"PG 1","y":26.7},{"p":"I","x":"PG 1","y":26.1},
{"p":"I","x":"PG 2","y":26.3},{"p":"I","x":"PG 2","y":25.6},{"p":"I","x":"PG 2","y":27.3},{"p":"I","x":"PG 2","y":26.1},{"p":"I","x":"PG 2","y":26.5},{"p":"I","x":"PG 2","y":25.4},{"p":"I","x":"PG 2","y":27.0},{"p":"I","x":"PG 2","y":26.2},
{"p":"I","x":"PG 3","y":26.2},{"p":"I","x":"PG 3","y":25.6},{"p":"I","x":"PG 3","y":27.0},{"p":"I","x":"PG 3","y":26.0},{"p":"I","x":"PG 3","y":26.4},{"p":"I","x":"PG 3","y":25.2},{"p":"I","x":"PG 3","y":26.6},{"p":"I","x":"PG 3","y":26.3},
{"p":"I","x":"PG 4","y":26.2},{"p":"I","x":"PG 4","y":25.5},{"p":"I","x":"PG 4","y":27.4},{"p":"I","x":"PG 4","y":26.0},{"p":"I","x":"PG 4","y":26.4},{"p":"I","x":"PG 4","y":25.4},{"p":"I","x":"PG 4","y":27.1},{"p":"I","x":"PG 4","y":26.1},
{"p":"I","x":"SC 1","y":25.6},{"p":"I","x":"SC 1","y":25.2},{"p":"I","x":"SC 1","y":26.4},{"p":"I","x":"SC 1","y":25.4},{"p":"I","x":"SC 1","y":25.8},{"p":"I","x":"SC 1","y":25.1},{"p":"I","x":"SC 1","y":26.1},{"p":"I","x":"SC 1","y":25.7},
{"p":"I","x":"SC 2","y":25.6},{"p":"I","x":"SC 2","y":25.2},{"p":"I","x":"SC 2","y":26.3},{"p":"I","x":"SC 2","y":25.4},{"p":"I","x":"SC 2","y":25.7},{"p":"I","x":"SC 2","y":25.1},{"p":"I","x":"SC 2","y":26.0},{"p":"I","x":"SC 2","y":25.5},
{"p":"I","x":"SC 3","y":25.8},{"p":"I","x":"SC 3","y":25.5},{"p":"I","x":"SC 3","y":26.5},{"p":"I","x":"SC 3","y":25.7},{"p":"I","x":"SC 3","y":26.0},{"p":"I","x":"SC 3","y":25.4},{"p":"I","x":"SC 3","y":26.3},{"p":"I","x":"SC 3","y":25.9},
{"p":"I","x":"SC 4","y":25.8},{"p":"I","x":"SC 4","y":25.4},{"p":"I","x":"SC 4","y":26.5},{"p":"I","x":"SC 4","y":25.6},{"p":"I","x":"SC 4","y":25.9},{"p":"I","x":"SC 4","y":25.3},{"p":"I","x":"SC 4","y":26.2},{"p":"I","x":"SC 4","y":25.7}
]},
"concat":[
{"width":184,"height":160,"view":{"fill":"#EBEBEB","stroke":null},"title":"(A)","transform":[{"filter":"datum.p=='A'"}],
 "encoding":{"x":{"field":"x","type":"nominal","sort":null,"title":"qPCR PLATE","scale":{"paddingInner":0.15,"paddingOuter":0.175}}},
 "layer":[
  {"mark":{"type":"rule","color":"#7a7a7a","strokeWidth":0.8},"encoding":{"y":{"field":"lo","type":"quantitative","scale":{"domain":[0.33,1.93],"nice":false,"zero":false},"axis":{"title":"RTL- MS  CALIBRATOR","values":[0.5,0.75,1,1.25,1.5,1.75],"labelExpr":"datum.value*4%2==0 ? format(datum.value,'.1f') : ''","tickOpacity":{"condition":{"test":"datum.value*4%2==0","value":1},"value":0},"gridWidth":{"condition":{"test":"datum.value*4%2==0","value":1},"value":0.5}}},"y2":{"field":"hi"}}},
  {"mark":{"type":"bar","stroke":"#444444","strokeWidth":0.7},"encoding":{"y":{"field":"q1","type":"quantitative"},"y2":{"field":"q3"},"fill":{"field":"g","type":"nominal","scale":{"domain":["PG","SC","SP"],"range":["#ffffff","#8F80CB","#F4A23A"]},"legend":null}}},
  {"mark":{"type":"bar","stroke":"#111111","strokeWidth":1.2,"fillOpacity":0},"encoding":{"y":{"field":"md","type":"quantitative"},"y2":{"field":"md"}}},
  {"transform":[{"filter":"isValid(datum.y)"},{"window":[{"op":"row_number","as":"k"}],"groupby":["x"]}],"mark":{"type":"circle","size":8,"color":"#333333","opacity":0.7},"encoding":{"y":{"field":"y","type":"quantitative"},"xOffset":{"field":"k","type":"ordinal"}}}
 ]},
{"width":184,"height":160,"view":{"fill":"#EBEBEB","stroke":null},"title":"(B)","transform":[{"filter":"datum.p=='B'"}],
 "encoding":{"x":{"field":"x","type":"nominal","sort":null,"title":"qPCR PLATE","scale":{"paddingInner":0.15,"paddingOuter":0.175}}},
 "layer":[
  {"mark":{"type":"rule","color":"#7a7a7a","strokeWidth":0.8},"encoding":{"y":{"field":"lo","type":"quantitative","scale":{"domain":[0.33,1.93],"nice":false,"zero":false},"axis":{"title":"RTL- PG  CALIBRATOR","values":[0.5,0.75,1,1.25,1.5,1.75],"labelExpr":"datum.value*4%2==0 ? format(datum.value,'.1f') : ''","tickOpacity":{"condition":{"test":"datum.value*4%2==0","value":1},"value":0},"gridWidth":{"condition":{"test":"datum.value*4%2==0","value":1},"value":0.5}}},"y2":{"field":"hi"}}},
  {"mark":{"type":"bar","stroke":"#444444","strokeWidth":0.7},"encoding":{"y":{"field":"q1","type":"quantitative"},"y2":{"field":"q3"},"fill":{"field":"g","type":"nominal","scale":{"domain":["PG","SC","SP"],"range":["#ffffff","#8F80CB","#F4A23A"]},"legend":null}}},
  {"mark":{"type":"bar","stroke":"#111111","strokeWidth":1.2,"fillOpacity":0},"encoding":{"y":{"field":"md","type":"quantitative"},"y2":{"field":"md"}}},
  {"transform":[{"filter":"isValid(datum.y)"},{"window":[{"op":"row_number","as":"k"}],"groupby":["x"]}],"mark":{"type":"circle","size":8,"color":"#333333","opacity":0.7},"encoding":{"y":{"field":"y","type":"quantitative"},"xOffset":{"field":"k","type":"ordinal"}}}
 ]},
{"width":184,"height":160,"view":{"fill":"#EBEBEB","stroke":null},"title":"(C)","transform":[{"filter":"datum.p=='C'"}],
 "encoding":{"x":{"field":"x","type":"nominal","sort":null,"title":"qPCR PLATE","scale":{"paddingInner":0.15,"paddingOuter":0.175}}},
 "layer":[
  {"mark":{"type":"rule","color":"#7a7a7a","strokeWidth":0.8},"encoding":{"y":{"field":"lo","type":"quantitative","scale":{"domain":[0.33,1.93],"nice":false,"zero":false},"axis":{"title":"RTL- NO  CALIBRATOR","values":[0.5,0.75,1,1.25,1.5,1.75],"labelExpr":"datum.value*4%2==0 ? format(datum.value,'.1f') : ''","tickOpacity":{"condition":{"test":"datum.value*4%2==0","value":1},"value":0},"gridWidth":{"condition":{"test":"datum.value*4%2==0","value":1},"value":0.5}}},"y2":{"field":"hi"}}},
  {"mark":{"type":"bar","stroke":"#444444","strokeWidth":0.7},"encoding":{"y":{"field":"q1","type":"quantitative"},"y2":{"field":"q3"},"fill":{"field":"g","type":"nominal","scale":{"domain":["PG","SC","SP"],"range":["#ffffff","#8F80CB","#F4A23A"]},"legend":null}}},
  {"mark":{"type":"bar","stroke":"#111111","strokeWidth":1.2,"fillOpacity":0},"encoding":{"y":{"field":"md","type":"quantitative"},"y2":{"field":"md"}}},
  {"transform":[{"filter":"isValid(datum.y)"},{"window":[{"op":"row_number","as":"k"}],"groupby":["x"]}],"mark":{"type":"circle","size":8,"color":"#333333","opacity":0.7},"encoding":{"y":{"field":"y","type":"quantitative"},"xOffset":{"field":"k","type":"ordinal"}}}
 ]},
{"width":184,"height":160,"view":{"fill":"#EBEBEB","stroke":null},"title":"(D)","transform":[{"filter":"datum.p=='D'"}],
 "encoding":{"x":{"field":"x","type":"nominal","sort":null,"title":"qPCR PLATE","scale":{"paddingInner":0.15,"paddingOuter":0.175}}},
 "layer":[
  {"mark":{"type":"rule","color":"#7a7a7a","strokeWidth":0.8},"encoding":{"y":{"field":"lo","type":"quantitative","scale":{"domain":[11.76,18.29],"nice":false,"zero":false},"axis":{"title":"Cq TEL","values":[12,13,14,15,16,17,18],"labelExpr":"datum.value%2==0 ? datum.label : ''","tickOpacity":{"condition":{"test":"datum.value%2==0","value":1},"value":0},"gridWidth":{"condition":{"test":"datum.value%2==0","value":1},"value":0.5}}},"y2":{"field":"hi"}}},
  {"mark":{"type":"bar","stroke":"#444444","strokeWidth":0.7},"encoding":{"y":{"field":"q1","type":"quantitative"},"y2":{"field":"q3"},"fill":{"field":"g","type":"nominal","scale":{"domain":["PG","SC","SP"],"range":["#ffffff","#8F80CB","#F4A23A"]},"legend":null}}},
  {"mark":{"type":"bar","stroke":"#111111","strokeWidth":1.2,"fillOpacity":0},"encoding":{"y":{"field":"md","type":"quantitative"},"y2":{"field":"md"}}},
  {"transform":[{"filter":"isValid(datum.y)"},{"window":[{"op":"row_number","as":"k"}],"groupby":["x"]}],"mark":{"type":"circle","size":8,"color":"#333333","opacity":0.7},"encoding":{"y":{"field":"y","type":"quantitative"},"xOffset":{"field":"k","type":"ordinal"}}}
 ]},
{"width":184,"height":160,"view":{"fill":"#EBEBEB","stroke":null},"title":"(E)","transform":[{"filter":"datum.p=='E'"}],
 "encoding":{"x":{"field":"x","type":"nominal","sort":null,"title":"qPCR PLATE","scale":{"paddingInner":0.15,"paddingOuter":0.175}}},
 "layer":[
  {"mark":{"type":"rule","color":"#7a7a7a","strokeWidth":0.8},"encoding":{"y":{"field":"lo","type":"quantitative","scale":{"domain":[23.33,28.25],"nice":false,"zero":false},"axis":{"title":"Cq B2M","values":[23.5,24,24.5,25,25.5,26,26.5,27,27.5,28],"labelExpr":"datum.value%1==0 ? datum.label : ''","tickOpacity":{"condition":{"test":"datum.value%1==0","value":1},"value":0},"gridWidth":{"condition":{"test":"datum.value%1==0","value":1},"value":0.5}}},"y2":{"field":"hi"}}},
  {"mark":{"type":"bar","stroke":"#444444","strokeWidth":0.7},"encoding":{"y":{"field":"q1","type":"quantitative"},"y2":{"field":"q3"},"fill":{"field":"g","type":"nominal","scale":{"domain":["PG","SC","SP"],"range":["#ffffff","#8F80CB","#F4A23A"]},"legend":null}}},
  {"mark":{"type":"bar","stroke":"#111111","strokeWidth":1.2,"fillOpacity":0},"encoding":{"y":{"field":"md","type":"quantitative"},"y2":{"field":"md"}}},
  {"transform":[{"filter":"isValid(datum.y)"},{"window":[{"op":"row_number","as":"k"}],"groupby":["x"]}],"mark":{"type":"circle","size":8,"color":"#333333","opacity":0.7},"encoding":{"y":{"field":"y","type":"quantitative"},"xOffset":{"field":"k","type":"ordinal"}}}
 ]},
{"width":184,"height":160,"view":{"fill":"#EBEBEB","stroke":null},"title":"(F)","transform":[{"filter":"datum.p=='F'"}],
 "encoding":{"x":{"field":"x","type":"nominal","sort":null,"title":"qPCR PLATE","scale":{"paddingInner":0.15,"paddingOuter":0.175}}},
 "layer":[
  {"mark":{"type":"rule","color":"#7a7a7a","strokeWidth":0.8},"encoding":{"y":{"field":"lo","type":"quantitative","scale":{"domain":[0.34,1.91],"nice":false,"zero":false},"axis":{"title":"RTL- MS CALIBRATOR","values":[0.5,0.75,1,1.25,1.5,1.75],"labelExpr":"datum.value*4%2==0 ? format(datum.value,'.1f') : ''","tickOpacity":{"condition":{"test":"datum.value*4%2==0","value":1},"value":0},"gridWidth":{"condition":{"test":"datum.value*4%2==0","value":1},"value":0.5}}},"y2":{"field":"hi"}}},
  {"mark":{"type":"bar","stroke":"#444444","strokeWidth":0.7},"encoding":{"y":{"field":"q1","type":"quantitative"},"y2":{"field":"q3"},"fill":{"field":"g","type":"nominal","scale":{"domain":["PG","SC","SP"],"range":["#ffffff","#8F80CB","#F4A23A"]},"legend":null}}},
  {"mark":{"type":"bar","stroke":"#111111","strokeWidth":1.2,"fillOpacity":0},"encoding":{"y":{"field":"md","type":"quantitative"},"y2":{"field":"md"}}},
  {"transform":[{"filter":"isValid(datum.y)"},{"window":[{"op":"row_number","as":"k"}],"groupby":["x"]}],"mark":{"type":"circle","size":8,"color":"#333333","opacity":0.7},"encoding":{"y":{"field":"y","type":"quantitative"},"xOffset":{"field":"k","type":"ordinal"}}}
 ]},
{"width":184,"height":160,"data":{"values":[]},"mark":{"type":"point","opacity":0},"encoding":{}},
{"width":184,"height":160,"view":{"fill":"#EBEBEB","stroke":null},"title":"(G)","transform":[{"filter":"datum.p=='G'"}],
 "encoding":{"x":{"field":"x","type":"nominal","sort":null,"title":"qPCR PLATE","scale":{"paddingInner":0.15,"paddingOuter":0.175}}},
 "layer":[
  {"mark":{"type":"rule","color":"#7a7a7a","strokeWidth":0.8},"encoding":{"y":{"field":"lo","type":"quantitative","scale":{"domain":[0.34,1.91],"nice":false,"zero":false},"axis":{"title":"RTL- NO CALIBRATOR","values":[0.5,0.75,1,1.25,1.5,1.75],"labelExpr":"datum.value*4%2==0 ? format(datum.value,'.1f') : ''","tickOpacity":{"condition":{"test":"datum.value*4%2==0","value":1},"value":0},"gridWidth":{"condition":{"test":"datum.value*4%2==0","value":1},"value":0.5}}},"y2":{"field":"hi"}}},
  {"mark":{"type":"bar","stroke":"#444444","strokeWidth":0.7},"encoding":{"y":{"field":"q1","type":"quantitative"},"y2":{"field":"q3"},"fill":{"field":"g","type":"nominal","scale":{"domain":["PG","SC","SP"],"range":["#ffffff","#8F80CB","#F4A23A"]},"legend":null}}},
  {"mark":{"type":"bar","stroke":"#111111","strokeWidth":1.2,"fillOpacity":0},"encoding":{"y":{"field":"md","type":"quantitative"},"y2":{"field":"md"}}},
  {"transform":[{"filter":"isValid(datum.y)"},{"window":[{"op":"row_number","as":"k"}],"groupby":["x"]}],"mark":{"type":"circle","size":8,"color":"#333333","opacity":0.7},"encoding":{"y":{"field":"y","type":"quantitative"},"xOffset":{"field":"k","type":"ordinal"}}}
 ]},
{"width":184,"height":160,"view":{"fill":"#EBEBEB","stroke":null},"title":"(H)","transform":[{"filter":"datum.p=='H'"}],
 "encoding":{"x":{"field":"x","type":"nominal","sort":null,"title":"qPCR PLATE","scale":{"paddingInner":0.15,"paddingOuter":0.175}}},
 "layer":[
  {"mark":{"type":"rule","color":"#7a7a7a","strokeWidth":0.8},"encoding":{"y":{"field":"lo","type":"quantitative","scale":{"domain":[11.51,18.65],"nice":false,"zero":false},"axis":{"title":"Cq TEL","values":[12,13,14,15,16,17,18],"labelExpr":"datum.value%2==0 ? datum.label : ''","tickOpacity":{"condition":{"test":"datum.value%2==0","value":1},"value":0},"gridWidth":{"condition":{"test":"datum.value%2==0","value":1},"value":0.5}}},"y2":{"field":"hi"}}},
  {"mark":{"type":"bar","stroke":"#444444","strokeWidth":0.7},"encoding":{"y":{"field":"q1","type":"quantitative"},"y2":{"field":"q3"},"fill":{"field":"g","type":"nominal","scale":{"domain":["PG","SC","SP"],"range":["#ffffff","#8F80CB","#F4A23A"]},"legend":null}}},
  {"mark":{"type":"bar","stroke":"#111111","strokeWidth":1.2,"fillOpacity":0},"encoding":{"y":{"field":"md","type":"quantitative"},"y2":{"field":"md"}}},
  {"transform":[{"filter":"isValid(datum.y)"},{"window":[{"op":"row_number","as":"k"}],"groupby":["x"]}],"mark":{"type":"circle","size":8,"color":"#333333","opacity":0.7},"encoding":{"y":{"field":"y","type":"quantitative"},"xOffset":{"field":"k","type":"ordinal"}}}
 ]},
{"width":184,"height":160,"view":{"fill":"#EBEBEB","stroke":null},"title":"(I)","transform":[{"filter":"datum.p=='I'"}],
 "encoding":{"x":{"field":"x","type":"nominal","sort":null,"title":"qPCR PLATE","scale":{"paddingInner":0.15,"paddingOuter":0.175}}},
 "layer":[
  {"mark":{"type":"rule","color":"#7a7a7a","strokeWidth":0.8},"encoding":{"y":{"field":"lo","type":"quantitative","scale":{"domain":[23.29,28.25],"nice":false,"zero":false},"axis":{"title":"Cq TEL","values":[23.5,24,24.5,25,25.5,26,26.5,27,27.5,28],"labelExpr":"datum.value%1==0 ? datum.label : ''","tickOpacity":{"condition":{"test":"datum.value%1==0","value":1},"value":0},"gridWidth":{"condition":{"test":"datum.value%1==0","value":1},"value":0.5}}},"y2":{"field":"hi"}}},
  {"mark":{"type":"bar","stroke":"#444444","strokeWidth":0.7},"encoding":{"y":{"field":"q1","type":"quantitative"},"y2":{"field":"q3"},"fill":{"field":"g","type":"nominal","scale":{"domain":["PG","SC","SP"],"range":["#ffffff","#8F80CB","#F4A23A"]},"legend":null}}},
  {"mark":{"type":"bar","stroke":"#111111","strokeWidth":1.2,"fillOpacity":0},"encoding":{"y":{"field":"md","type":"quantitative"},"y2":{"field":"md"}}},
  {"transform":[{"filter":"isValid(datum.y)"},{"window":[{"op":"row_number","as":"k"}],"groupby":["x"]}],"mark":{"type":"circle","size":8,"color":"#333333","opacity":0.7},"encoding":{"y":{"field":"y","type":"quantitative"},"xOffset":{"field":"k","type":"ordinal"}}}
 ]}
]
}
